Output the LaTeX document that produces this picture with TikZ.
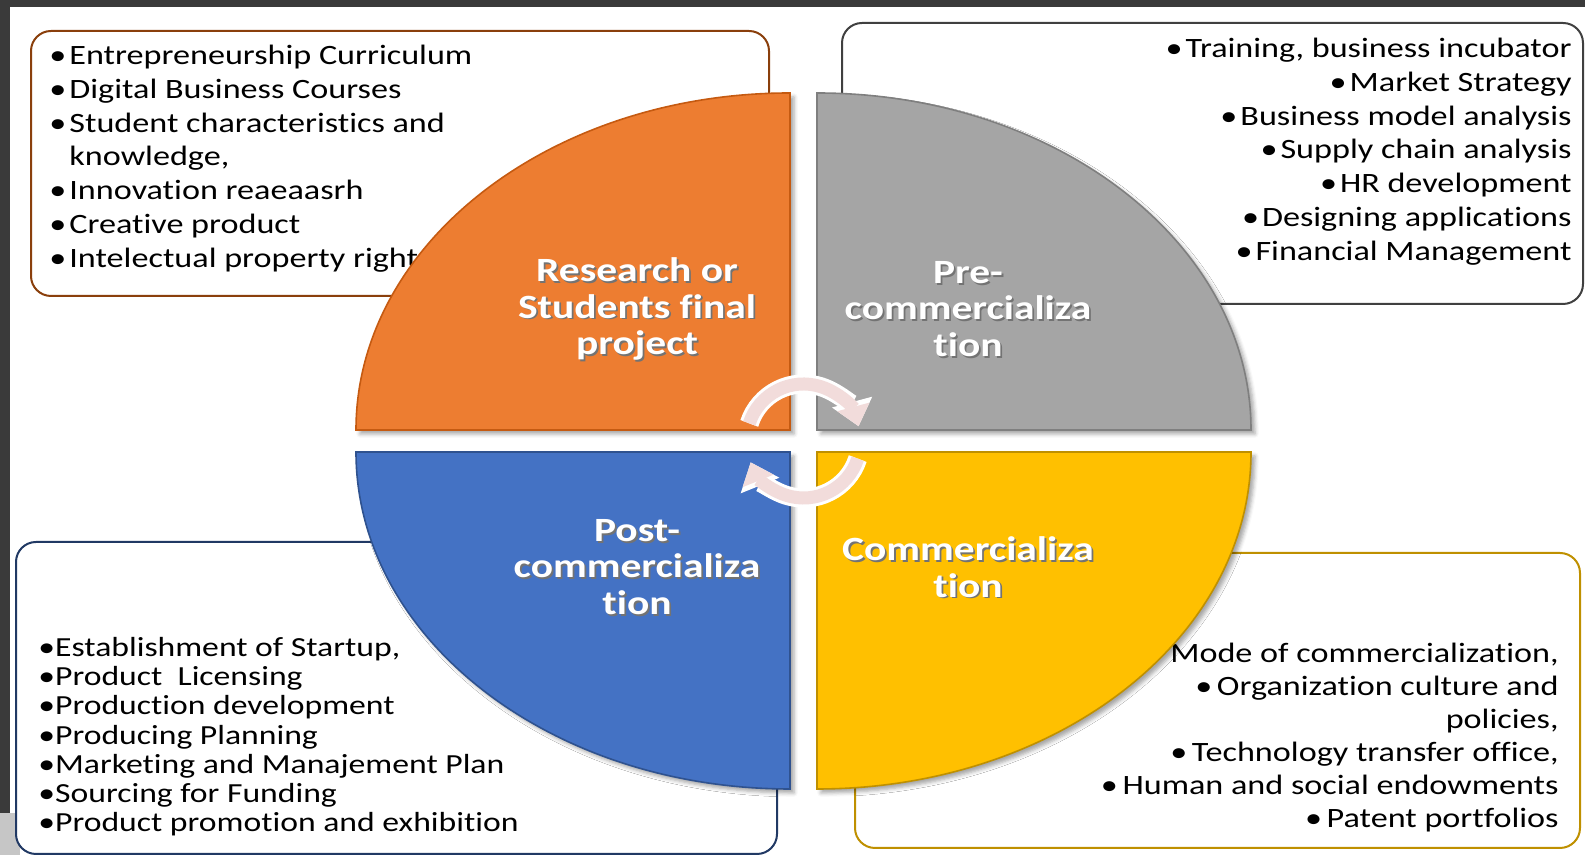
\documentclass[tikz,border=0pt]{standalone}
\usepackage{fontspec}
\setmainfont{Carlito}[FakeStretch=1.22, Ligatures=NoCommon]
\usepackage{xcolor}
\usetikzlibrary{arrows.meta,calc,shadows.blur}
\definecolor{qorange}{HTML}{ED7D31}
\definecolor{qorangeline}{HTML}{C55A11}
\definecolor{qgray}{HTML}{A5A5A5}
\definecolor{qgrayline}{HTML}{7F7F7F}
\definecolor{qblue}{HTML}{4472C4}
\definecolor{qblueline}{HTML}{2F528F}
\definecolor{qyellow}{HTML}{FFC000}
\definecolor{qyellowline}{HTML}{BF9000}
\definecolor{framedark}{HTML}{3A3A3A}
\definecolor{arrowpink}{HTML}{F2DCDB}
\newcommand{\shadowed}[1]{\rlap{\hspace{0.9pt}\raisebox{-0.9pt}{\color{black!55}#1}}#1}

\begin{document}
\begin{tikzpicture}[x=0.5pt, y=0.5pt,
  listbox/.style={draw, line width=1pt, rounded corners=10pt, fill=white, anchor=north west},
  listtext/.style={inner sep=0pt, font=\fontsize{14}{16.85}\selectfont},
  quarter/.style={line width=0.8pt, blur shadow={shadow xshift=2pt, shadow yshift=-2pt, shadow opacity=35}},
  phase/.style={text=white, align=center, font=\bfseries\fontsize{17}{18.25}\selectfont},
  turnarrow/.style={draw=arrowpink, line width=6.5pt, -{Triangle[length=10pt, width=16pt]},
    preaction={draw=white, line width=9.5pt, -{Triangle[length=12.5pt, width=20pt]}}}]
  \useasboundingbox (0,0) rectangle (1585,855);
  % Frame
  \fill[framedark] (0,848) rectangle (1585,855);
  \fill[framedark] (0,42) rectangle (10,855);
  \fill[gray!45] (0,0) rectangle (20,42);

  % Boxes
  \node[listbox, draw=qorangeline!70!black, minimum width=369pt, minimum height=132.5pt] (rsbox) at (30,825) {};
  \node[listbox, draw=black!75, minimum width=370.5pt, minimum height=140.5pt] (prebox) at (841,833) {};
  \node[listbox, draw=qblueline!70!black, minimum width=380.5pt, minimum height=156pt] (postbox) at (15,314) {};
  \node[listbox, draw=qyellowline, minimum width=362.5pt, minimum height=147.5pt] (combox) at (854,303) {};

  % Lists
  \node[listtext, align=left, anchor=north west] (rstext) at ($(rsbox.north west)+(19,-15)$)
    {•\kern1.5pt Entrepreneurship Curriculum\\ •\kern1.5pt Digital Business Courses\\ •\kern1.5pt Student characteristics and\\ \phantom{•\kern1.5pt}knowledge,\\ •\kern1.5pt Innovation reaeaasrh\\ •\kern1.5pt Creative product\\ •\kern1.5pt Intelectual property right};
  \node[listtext, align=right, anchor=north east] (pretext) at ($(prebox.north east)+(-12,-16)$)
    {•\kern1.5pt Training, business incubator\\ •\kern1.5pt Market Strategy\\ •\kern1.5pt Business model analysis\\ •\kern1.5pt Supply chain analysis\\ •\kern1.5pt HR development\\ •\kern1.5pt Designing applications\\ •\kern1.5pt Financial Management};
  \node[listtext, font=\fontsize{13.8}{14.6}\selectfont, align=left, anchor=north west] (posttext) at ($(postbox.north west)+(23,-96)$)
    {•Establishment of Startup,\\ •Product\ \ Licensing\\ •Production development\\ •Producing Planning\\ •Marketing and Manajement Plan\\ •Sourcing for Funding\\ •Product promotion and exhibition};
  \node[listtext, font=\fontsize{14}{16.5}\selectfont, align=right, anchor=north east] (comtext) at ($(combox.north east)+(-22,-91)$)
    {Mode of commercialization,\\ •\,Organization culture and\\ policies,\\ •\,Technology transfer office,\\ •\,Human and social endowments\\ •\,Patent portfolios};

  % Quarters
  \coordinate (hub) at (803.5,414);
  \path[quarter, fill=qorange, draw=qorangeline] ($(hub)+(-13.5,11)$) -- ++(-434,0)
    arc[start angle=180, end angle=90, x radius=434, y radius=337] -- cycle;
  \path[quarter, fill=qgray, draw=qgrayline] ($(hub)+(13.5,11)$) -- ++(0,337)
    arc[start angle=90, end angle=0, x radius=434, y radius=337] -- cycle;
  \path[quarter, fill=qblue, draw=qblueline] ($(hub)+(-13.5,-11)$) -- ++(-434,0)
    arc[start angle=180, end angle=270, x radius=434, y radius=337] -- cycle;
  \path[quarter, fill=qyellow, draw=qyellowline] ($(hub)+(13.5,-11)$) -- ++(434,0)
    arc[start angle=0, end angle=-90, x radius=434, y radius=337] -- cycle;

  % Phase labels
  \node[phase] (rs) at ($(hub)+(-166.5,131)$) {\shadowed{Research or}\\ \shadowed{Students final}\\ \shadowed{project}};
  \node[phase] (pre) at ($(hub)+(164.5,131)$) {\shadowed{Pre-}\\ \shadowed{commercializa}\\ \shadowed{tion}};
  \node[phase] (post) at ($(hub)+(-166.5,-127)$) {\shadowed{Post-}\\ \shadowed{commercializa}\\ \shadowed{tion}};
  \node[phase] (com) at ($(hub)+(164.5,-127)$) {\shadowed{Commercializa}\\ \shadowed{tion}};

  % Cycle arrows
  \draw[turnarrow] ($(hub)+(162:57)$) arc[start angle=162, end angle=15, radius=57];
  \draw[turnarrow] ($(hub)+(-18:57)$) arc[start angle=-18, end angle=-158, radius=57];
\end{tikzpicture}
\end{document}
